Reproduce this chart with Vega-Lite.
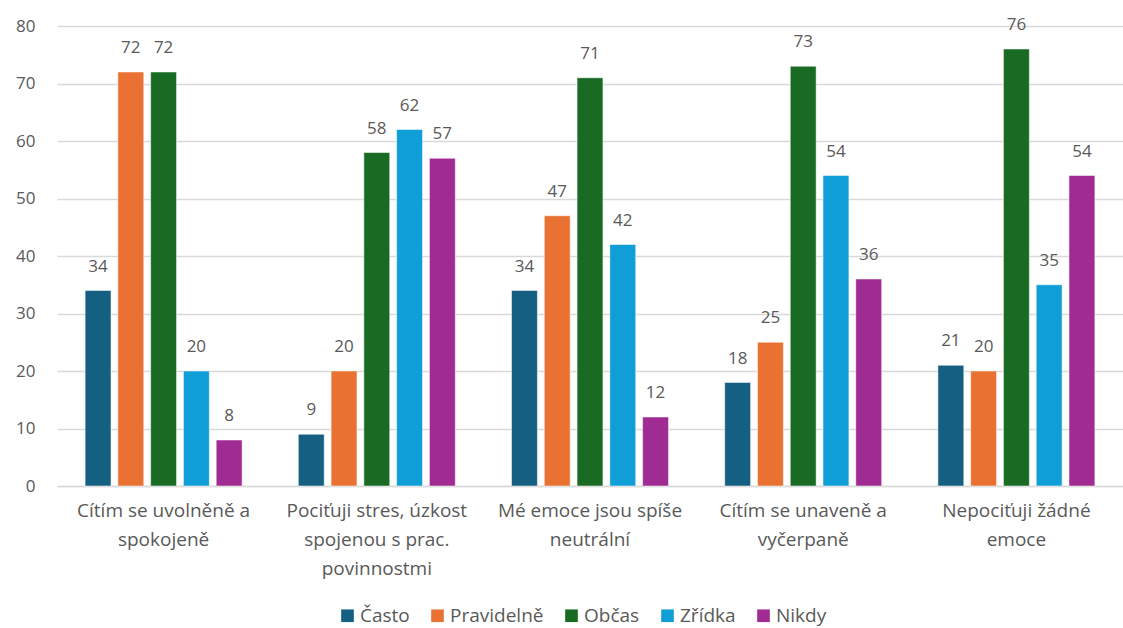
{
  "$schema": "https://vega.github.io/schema/vega-lite/v6.json",
  "autosize": {"type": "none"},
  "width": 1066,
  "height": 460,
  "padding": {"left": 57, "top": 26, "right": 0, "bottom": 142},
  "background": "white",
  "config": {
    "font": "Open Sans",
    "view": {"stroke": null},
    "axis": {"labelFont": "Open Sans", "labelColor": "#595959"}
  },
  "data": {
    "values": [
      {"kategorie": "Cítím se uvolněně a|spokojeně", "odpoved": "Často", "hodnota": 34},
      {"kategorie": "Cítím se uvolněně a|spokojeně", "odpoved": "Pravidelně", "hodnota": 72},
      {"kategorie": "Cítím se uvolněně a|spokojeně", "odpoved": "Občas", "hodnota": 72},
      {"kategorie": "Cítím se uvolněně a|spokojeně", "odpoved": "Zřídka", "hodnota": 20},
      {"kategorie": "Cítím se uvolněně a|spokojeně", "odpoved": "Nikdy", "hodnota": 8},
      {"kategorie": "Pociťuji stres, úzkost|spojenou s prac.|povinnostmi", "odpoved": "Často", "hodnota": 9},
      {"kategorie": "Pociťuji stres, úzkost|spojenou s prac.|povinnostmi", "odpoved": "Pravidelně", "hodnota": 20},
      {"kategorie": "Pociťuji stres, úzkost|spojenou s prac.|povinnostmi", "odpoved": "Občas", "hodnota": 58},
      {"kategorie": "Pociťuji stres, úzkost|spojenou s prac.|povinnostmi", "odpoved": "Zřídka", "hodnota": 62},
      {"kategorie": "Pociťuji stres, úzkost|spojenou s prac.|povinnostmi", "odpoved": "Nikdy", "hodnota": 57},
      {"kategorie": "Mé emoce jsou spíše|neutrální", "odpoved": "Často", "hodnota": 34},
      {"kategorie": "Mé emoce jsou spíše|neutrální", "odpoved": "Pravidelně", "hodnota": 47},
      {"kategorie": "Mé emoce jsou spíše|neutrální", "odpoved": "Občas", "hodnota": 71},
      {"kategorie": "Mé emoce jsou spíše|neutrální", "odpoved": "Zřídka", "hodnota": 42},
      {"kategorie": "Mé emoce jsou spíše|neutrální", "odpoved": "Nikdy", "hodnota": 12},
      {"kategorie": "Cítím se unaveně a|vyčerpaně", "odpoved": "Často", "hodnota": 18},
      {"kategorie": "Cítím se unaveně a|vyčerpaně", "odpoved": "Pravidelně", "hodnota": 25},
      {"kategorie": "Cítím se unaveně a|vyčerpaně", "odpoved": "Občas", "hodnota": 73},
      {"kategorie": "Cítím se unaveně a|vyčerpaně", "odpoved": "Zřídka", "hodnota": 54},
      {"kategorie": "Cítím se unaveně a|vyčerpaně", "odpoved": "Nikdy", "hodnota": 36},
      {"kategorie": "Nepociťuji žádné|emoce", "odpoved": "Často", "hodnota": 21},
      {"kategorie": "Nepociťuji žádné|emoce", "odpoved": "Pravidelně", "hodnota": 20},
      {"kategorie": "Nepociťuji žádné|emoce", "odpoved": "Občas", "hodnota": 76},
      {"kategorie": "Nepociťuji žádné|emoce", "odpoved": "Zřídka", "hodnota": 35},
      {"kategorie": "Nepociťuji žádné|emoce", "odpoved": "Nikdy", "hodnota": 54}
    ]
  },
  "encoding": {
    "x": {
      "field": "kategorie",
      "type": "nominal",
      "sort": null,
      "scale": {"paddingInner": 0.233, "paddingOuter": 0.1165},
      "axis": {
        "title": null,
        "labelAngle": 0,
        "labelExpr": "split(datum.value, '|')",
        "labelFontSize": 19,
        "labelLineHeight": 29,
        "labelPadding": 15,
        "labelBaseline": "top",
        "ticks": false,
        "domainColor": "#d9d9d9",
        "domainWidth": 1.5,
        "labelLimit": 300
      }
    },
    "xOffset": {
      "field": "odpoved",
      "type": "nominal",
      "sort": ["Často", "Pravidelně", "Občas", "Zřídka", "Nikdy"],
      "scale": {"paddingInner": 0.21, "paddingOuter": 0.1}
    },
    "y": {
      "field": "hodnota",
      "type": "quantitative",
      "scale": {"domain": [0, 80]},
      "axis": {
        "title": null,
        "values": [0, 10, 20, 30, 40, 50, 60, 70, 80],
        "domain": false,
        "ticks": false,
        "labelFontSize": 17,
        "labelPadding": 22,
        "gridColor": "#d9d9d9",
        "gridWidth": 1.5
      }
    }
  },
  "layer": [
    {
      "mark": {"type": "bar", "stroke": "white", "strokeWidth": 1, "strokeOpacity": 0.5},
      "encoding": {
        "color": {
          "field": "odpoved",
          "type": "nominal",
          "sort": ["Často", "Pravidelně", "Občas", "Zřídka", "Nikdy"],
          "scale": {
            "domain": ["Často", "Pravidelně", "Občas", "Zřídka", "Nikdy"],
            "range": ["#156082", "#e97132", "#196b24", "#0f9ed5", "#a02b93"]
          },
          "legend": {
            "title": null,
            "orient": "none",
            "legendX": 281,
            "legendY": 580,
            "direction": "horizontal",
            "symbolType": "square",
            "symbolSize": 160,
            "symbolStrokeWidth": 0,
            "labelFontSize": 19,
            "labelColor": "#595959",
            "labelFont": "Open Sans",
            "columnPadding": 18,
            "labelOffset": 3
          }
        }
      }
    },
    {
      "mark": {"type": "text", "baseline": "alphabetic", "dy": -19, "fontSize": 17, "color": "#595959"},
      "encoding": {
        "text": {"field": "hodnota", "type": "quantitative"}
      }
    }
  ]
}
